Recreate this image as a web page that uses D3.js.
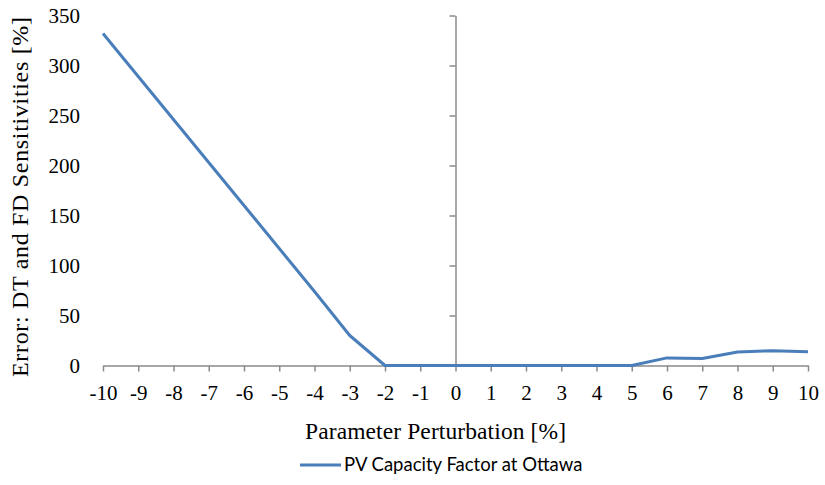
<!DOCTYPE html>
<html>
<head>
<meta charset="utf-8">
<script src="https://cdn.jsdelivr.net/npm/d3@7"></script>
<style>
  html, body { margin: 0; padding: 0; background: #fff; }
  svg { display: block; }
</style>
</head>
<body>
<svg id="chart" width="825" height="485"></svg>
<script>
// Parameter perturbation [%] and error of DT vs FD sensitivities [%]
const perturbation = [-10, -9, -8, -7, -6, -5, -4, -3, -2, -1, 0, 1, 2, 3, 4, 5, 6, 7, 8, 9, 10];
const errorValues = [332, 289, 246, 203, 160, 117, 74, 30, 0, 0, 0, 0, 0, 0, 0, 0, 7.6, 7, 13.5, 14.8, 13.8];
const yTicks = [0, 50, 100, 150, 200, 250, 300, 350];
const seriesName = "PV Capacity Factor at Ottawa";

const svg = d3.select("#chart");

const x = d3.scaleLinear().domain([-10, 10]).range([103, 808]);
const y = d3.scaleLinear().domain([0, 350]).range([365.5, 15.5]);

const axisColor = "#8a8a8a";
const serif = "'Liberation Serif', 'Times New Roman', serif";

// Horizontal axis at y = 0 with ticks pointing down
const xAxis = svg.append("g")
  .attr("transform", `translate(0,${y(0)})`)
  .call(d3.axisBottom(x).tickValues(perturbation).tickSize(6).tickSizeOuter(0).tickFormat(d => String(d)));
xAxis.attr("font-family", null).attr("font-size", null);
xAxis.select(".domain").attr("stroke", axisColor).attr("stroke-width", 1.5);
xAxis.selectAll(".tick line").attr("stroke", axisColor).attr("stroke-width", 1.5);
xAxis.selectAll(".tick text")
  .attr("fill", "#000")
  .style("font-family", serif)
  .style("font-size", "21px")
  .attr("dy", 0)
  .attr("y", 34);

// Vertical axis crossing at x = 0
const yAxis = svg.append("g")
  .attr("transform", `translate(${x(0)},0)`)
  .call(d3.axisLeft(y).tickValues(yTicks).tickSize(6).tickSizeOuter(0).tickFormat(() => ""));
yAxis.select(".domain").attr("stroke", axisColor).attr("stroke-width", 1.5);
yAxis.selectAll(".tick line").attr("stroke", axisColor).attr("stroke-width", 1.5);

// Y tick labels at the left edge of the plot
svg.append("g").selectAll("text")
  .data(yTicks)
  .join("text")
  .attr("x", 80)
  .attr("y", d => y(d))
  .attr("dy", "0.35em")
  .attr("text-anchor", "end")
  .style("font-family", serif)
  .style("font-size", "21px")
  .attr("fill", "#000")
  .text(d => d);

// Data line
const line = d3.line()
  .x((d, i) => x(perturbation[i]))
  .y(d => y(d));
svg.append("path")
  .datum(errorValues)
  .attr("d", line)
  .attr("fill", "none")
  .attr("stroke", "#4a7ebb")
  .attr("stroke-width", 3)
  .attr("stroke-linejoin", "round");

// Axis titles
svg.append("text")
  .attr("x", 305)
  .attr("y", 439)
  .attr("textLength", 261)
  .attr("lengthAdjust", "spacing")
  .style("font-family", serif)
  .style("font-size", "23.5px")
  .attr("fill", "#000")
  .text("Parameter Perturbation [%]");

svg.append("text")
  .attr("transform", "translate(28,377) rotate(-90)")
  .attr("textLength", 360)
  .attr("lengthAdjust", "spacing")
  .style("font-family", serif)
  .style("font-size", "24px")
  .attr("fill", "#000")
  .text("Error: DT and FD Sensitivities [%]");

// Legend
const legend = svg.append("g");
legend.append("line")
  .attr("x1", 300).attr("x2", 341)
  .attr("y1", 465).attr("y2", 465)
  .attr("stroke", "#4a7ebb")
  .attr("stroke-width", 3);
legend.append("text")
  .attr("x", 344)
  .attr("y", 465)
  .attr("dy", "0.35em")
  .style("font-family", "Lato, 'Open Sans', sans-serif")
  .style("font-size", "18.5px")
  .attr("fill", "#000")
  .text(seriesName);
</script>
</body>
</html>
